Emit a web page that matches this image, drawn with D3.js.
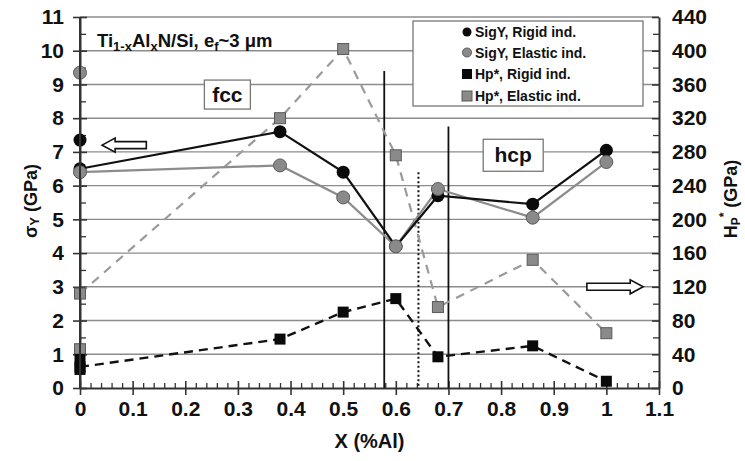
<!DOCTYPE html>
<html><head><meta charset="utf-8">
<script src="https://cdn.jsdelivr.net/npm/d3@7/dist/d3.min.js"></script>
<style>
html,body{margin:0;padding:0;background:#fff;}
svg text{font-family:"Liberation Sans",Arial,sans-serif;}
</style></head>
<body><svg id="c" width="745" height="461"></svg>
<script>
// ---- data ----
const xTicks = [0,0.1,0.2,0.3,0.4,0.5,0.6,0.7,0.8,0.9,1,1.1];
const xTickLabels = ["0","0.1","0.2","0.3","0.4","0.5","0.6","0.7","0.8","0.9","1","1.1"];
const yLeftTicks = [0,1,2,3,4,5,6,7,8,9,10,11];
const yRightTicks = [0,40,80,120,160,200,240,280,320,360,400,440];

// SigY (GPa, left axis)
const sigRigidX = [0, 0, 0.38, 0.5, 0.6, 0.68, 0.86, 1];
const sigRigidY = [7.35, 6.5, 7.6, 6.4, 4.2, 5.7, 5.45, 7.05];
const sigElasticX = [0, 0, 0.38, 0.5, 0.6, 0.68, 0.86, 1];
const sigElasticY = [9.35, 6.4, 6.6, 5.65, 4.2, 5.9, 5.05, 6.7];
// Hp* (GPa, right axis)
const hpRigidX = [0, 0, 0, 0.38, 0.5, 0.6, 0.68, 0.86, 1];
const hpRigidY = [34, 22, 25, 58, 90, 106, 37, 50, 8];
const hpElasticX = [0, 0, 0.38, 0.5, 0.6, 0.68, 0.86, 1];
const hpElasticY = [46, 112, 320, 402, 276, 96, 152, 65];

// phase boundaries (x, top value on left axis, style)
const boundX = [0.578, 0.7, 0.643];
const boundTop = [9.4, 7.75, 6.4];
const boundStyle = ["solid", "solid", "dotted"];

const legendLabels = ["SigY, Rigid ind.", "SigY, Elastic ind.", "Hp*, Rigid ind.", "Hp*, Elastic ind."];

// ---- layout ----
const svg = d3.select("#c");
const x = d3.scaleLinear().domain([0, 1.1]).range([80, 659]);
const yL = d3.scaleLinear().domain([0, 11]).range([388, 17]);
const yR = d3.scaleLinear().domain([0, 440]).range([388, 17]);
const AX = "#333";
const GRID = "#8c8c8c";
const TF = 21;

// gridlines
svg.append("g").selectAll("line").data(yLeftTicks.slice(1)).join("line")
  .attr("x1", x(0)).attr("x2", x(1.1))
  .attr("y1", d => yL(d)).attr("y2", d => yL(d))
  .attr("stroke", GRID).attr("stroke-width", 1.4);

function styleAxis(g){ g.select(".domain").attr("stroke", AX).attr("stroke-width", 2); g.selectAll(".tick line").attr("stroke", AX).attr("stroke-width", 1.6); }
function styleLabels(g){ g.selectAll(".tick text").attr("font-size", TF).attr("font-weight", "bold").attr("fill", "#111")
  .attr("font-family", "Liberation Sans, Arial, sans-serif"); }

// x axis
const minorX = d3.range(0, 1.1001, 0.02).filter(v => Math.abs(v*10 - Math.round(v*10)) > 1e-6);
svg.append("g").attr("transform", `translate(0,${yL(0)})`)
  .call(d3.axisBottom(x).tickValues(minorX).tickSize(-5).tickFormat(""))
  .call(g => { styleAxis(g); g.select(".domain").remove(); g.selectAll(".tick line").attr("stroke-width",1.3); });
svg.append("g").attr("transform", `translate(0,${yL(0)})`)
  .call(d3.axisBottom(x).tickValues(xTicks).tickSize(-7).tickFormat(""))
  .call(g => { styleAxis(g); g.select(".domain").remove(); });
const gx = svg.append("g").attr("transform", `translate(0,${yL(0)})`)
  .call(d3.axisBottom(x).tickValues(xTicks).tickSizeInner(7).tickSizeOuter(0).tickPadding(6)
    .tickFormat((d,i) => xTickLabels[i]));
styleAxis(gx); styleLabels(gx);

// left axis
const minorL = d3.range(0.5, 11, 1);
svg.append("g").attr("transform", `translate(${x(0)},0)`)
  .call(d3.axisLeft(yL).tickValues(minorL).tickSize(-6).tickFormat(""))
  .call(g => { styleAxis(g); g.select(".domain").remove(); g.selectAll(".tick line").attr("stroke-width",1.3); });
svg.append("g").attr("transform", `translate(${x(0)},0)`)
  .call(d3.axisLeft(yL).tickValues(yLeftTicks).tickSize(-7).tickFormat(""))
  .call(g => { styleAxis(g); g.select(".domain").remove(); });
const gl = svg.append("g").attr("transform", `translate(${x(0)},0)`)
  .call(d3.axisLeft(yL).tickValues(yLeftTicks).tickSizeInner(7).tickSizeOuter(0).tickPadding(9));
styleAxis(gl); styleLabels(gl);

// right axis
const minorR = d3.range(20, 440, 40);
svg.append("g").attr("transform", `translate(${x(1.1)},0)`)
  .call(d3.axisRight(yR).tickValues(minorR).tickSize(-6).tickFormat(""))
  .call(g => { styleAxis(g); g.select(".domain").remove(); g.selectAll(".tick line").attr("stroke-width",1.3); });
svg.append("g").attr("transform", `translate(${x(1.1)},0)`)
  .call(d3.axisRight(yR).tickValues(yRightTicks).tickSize(-7).tickFormat(""))
  .call(g => { styleAxis(g); g.select(".domain").remove(); });
const gr = svg.append("g").attr("transform", `translate(${x(1.1)},0)`)
  .call(d3.axisRight(yR).tickValues(yRightTicks).tickSizeInner(0).tickSizeOuter(0).tickPadding(13));
styleAxis(gr); styleLabels(gr);

// phase boundaries
const bounds = boundX.map((v,i) => ({x:v, top:boundTop[i], style:boundStyle[i]}));
svg.append("g").selectAll("line").data(bounds).join("line")
  .attr("x1", d => x(d.x)).attr("x2", d => x(d.x))
  .attr("y1", d => yL(d.top)).attr("y2", yL(0))
  .attr("stroke", "#111")
  .attr("stroke-width", d => d.style === "dotted" ? 2 : 1.8)
  .attr("stroke-dasharray", d => d.style === "dotted" ? "2,2.5" : null);

// series lines
function pts(xs, ys){ return xs.map((v,i) => [v, ys[i]]); }
const sR = pts(sigRigidX, sigRigidY), sE = pts(sigElasticX, sigElasticY);
const hR = pts(hpRigidX, hpRigidY), hE = pts(hpElasticX, hpElasticY);
const lineL = d3.line().x(d => x(d[0])).y(d => yL(d[1]));
const lineR = d3.line().x(d => x(d[0])).y(d => yR(d[1]));

svg.append("path").attr("d", lineR(hE.slice(1))).attr("fill","none")
  .attr("stroke","#9a9a9a").attr("stroke-width",2.2).attr("stroke-dasharray","9,7");
svg.append("path").attr("d", lineR(hR.slice(2))).attr("fill","none")
  .attr("stroke","#111").attr("stroke-width",2.4).attr("stroke-dasharray","9,6");
svg.append("path").attr("d", lineL(sE.slice(1))).attr("fill","none")
  .attr("stroke","#8c8c8c").attr("stroke-width",2.2);
svg.append("path").attr("d", lineL(sR.slice(1))).attr("fill","none")
  .attr("stroke","#111").attr("stroke-width",2.2);

// markers
const SQ = 11;
svg.append("g").selectAll("rect").data(hE).join("rect")
  .attr("x", d => x(d[0]) - SQ/2).attr("y", d => yR(d[1]) - SQ/2)
  .attr("width", SQ).attr("height", SQ).attr("fill","#8a8a8a").attr("stroke","#5a5a5a").attr("stroke-width",1);
svg.append("g").selectAll("rect").data(hR).join("rect")
  .attr("x", d => x(d[0]) - SQ/2).attr("y", d => yR(d[1]) - SQ/2)
  .attr("width", SQ).attr("height", SQ).attr("fill","#0a0a0a");
svg.append("g").selectAll("circle").data(sR).join("circle")
  .attr("cx", d => x(d[0])).attr("cy", d => yL(d[1])).attr("r", 6.5).attr("fill","#0a0a0a");
svg.append("g").selectAll("circle").data(sE).join("circle")
  .attr("cx", d => x(d[0])).attr("cy", d => yL(d[1])).attr("r", 6.5)
  .attr("fill","#8a8a8a").attr("stroke","#5a5a5a").attr("stroke-width",1);

// redraw left axis domain on top
svg.append("line").attr("x1", x(0)).attr("x2", x(0)).attr("y1", yL(0)).attr("y2", yL(11))
  .attr("stroke", AX).attr("stroke-width", 2);

// hollow arrows
function arrow(x0, x1, yc){
  const dir = Math.sign(x1 - x0), hl = 13, sh = 3.5, hh = 7;
  const xb = x1 - dir*hl;
  return `M${x0},${yc-sh}L${xb},${yc-sh}L${xb},${yc-hh}L${x1},${yc}L${xb},${yc+hh}L${xb},${yc+sh}L${x0},${yc+sh}Z`;
}
svg.append("path").attr("d", arrow(x(0.126), x(0.042), yL(7.2)))
  .attr("fill","#fff").attr("stroke","#111").attr("stroke-width",1.6);
svg.append("path").attr("d", arrow(x(0.963), x(1.07), yR(120)))
  .attr("fill","#fff").attr("stroke","#111").attr("stroke-width",1.6);

// phase labels
function boxLabel(txt, cx, cy, w, h){
  svg.append("rect").attr("x", cx - w/2).attr("y", cy - h/2).attr("width", w).attr("height", h)
    .attr("fill","#fff").attr("stroke","#777").attr("stroke-width",1.3);
  svg.append("text").attr("x", cx).attr("y", cy + 7).attr("text-anchor","middle")
    .attr("font-size", 21).attr("font-weight","bold").attr("fill","#111").text(txt);
}
boxLabel("fcc", x(0.28), yL(8.7), 46, 29);
boxLabel("hcp", x(0.823), yL(6.9), 60, 32);

// title annotation
const t = svg.append("text").attr("x", 97).attr("y", 47).attr("font-size", 18.5)
  .attr("font-weight","bold").attr("fill","#111");
t.append("tspan").text("Ti");
t.append("tspan").attr("font-size", 13).attr("dy", 4).text("1-x");
t.append("tspan").attr("dy", -4).text("Al");
t.append("tspan").attr("font-size", 13).attr("dy", 4).text("x");
t.append("tspan").attr("dy", -4).text("N/Si, e");
t.append("tspan").attr("font-size", 13).attr("dy", 4).text("f");
t.append("tspan").attr("dy", -4).text("~3 μm");

// legend
svg.append("rect").attr("x", 413).attr("y", 21).attr("width", 230).attr("height", 85)
  .attr("fill","#fff").attr("stroke","#777").attr("stroke-width",1.3);
const legY = [32, 52.5, 74, 96];
const lg = svg.append("g");
legendLabels.forEach((lab, i) => {
  const yy = legY[i];
  if (i === 0) lg.append("circle").attr("cx", 467).attr("cy", yy).attr("r", 4.5).attr("fill", "#0a0a0a");
  if (i === 1) lg.append("circle").attr("cx", 467).attr("cy", yy).attr("r", 4.5).attr("fill", "#8a8a8a").attr("stroke","#5a5a5a");
  if (i === 2) lg.append("rect").attr("x", 462).attr("y", yy-5).attr("width", 10).attr("height", 10).attr("fill", "#0a0a0a");
  if (i === 3) lg.append("rect").attr("x", 462).attr("y", yy-5).attr("width", 10).attr("height", 10).attr("fill", "#8a8a8a").attr("stroke","#5a5a5a");
  lg.append("text").attr("x", 475).attr("y", yy + 5).attr("font-size", 14).attr("font-weight","bold")
    .attr("fill","#111").text(lab);
});

// axis titles
svg.append("text").attr("x", x(0.55)).attr("y", 448).attr("text-anchor","middle")
  .attr("font-size", 20).attr("font-weight","bold").attr("fill","#111").text("X (%Al)");
const lt = svg.append("text").attr("transform", `translate(37,201) rotate(-90)`)
  .attr("text-anchor","middle").attr("font-size", 18).attr("font-weight","bold").attr("fill","#111");
lt.append("tspan").text("σ");
lt.append("tspan").attr("font-size", 13).attr("dy", 2).text("Y");
lt.append("tspan").attr("dy", -2).text(" (GPa)");
const rt = svg.append("text").attr("transform", `translate(737,199) rotate(-90)`)
  .attr("text-anchor","middle").attr("font-size", 18).attr("font-weight","bold").attr("fill","#111");
rt.append("tspan").text("H");
rt.append("tspan").attr("font-size", 12).attr("dy", 3).text("P");
rt.append("tspan").attr("font-size", 12).attr("dy", -12).text("*");
rt.append("tspan").attr("dy", 9).text(" (GPa)");
</script></body></html>
